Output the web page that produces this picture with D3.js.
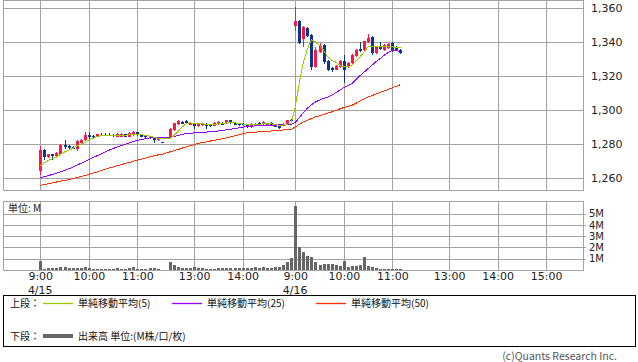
<!DOCTYPE html>
<html>
<head>
<meta charset="utf-8">
<script src="https://cdn.jsdelivr.net/npm/d3@7"></script>
<style>
  body { margin: 0; background: #fff; }
  text { font-family: "DejaVu Sans", sans-serif; }
  .jp { font-family: "Noto Sans CJK JP", sans-serif; }
</style>
</head>
<body>
<div id="chart"></div>
<script>
// bar times, 5 minute bars
var day1Times = ["9:00","9:05","9:10","9:15","9:20","9:25","9:30","9:35","9:40","9:45","9:50","9:55",
  "10:00","10:05","10:10","10:15","10:20","10:25","10:30","10:35","10:40","10:45","10:50","10:55",
  "11:00","11:05","11:10","11:15","11:20","11:25","11:30",
  "12:30","12:35","12:40","12:45","12:50","12:55","13:00","13:05","13:10","13:15","13:20","13:25",
  "13:30","13:35","13:40","13:45","13:50","13:55","14:00","14:05","14:10","14:15","14:20","14:25",
  "14:30","14:35","14:40","14:45","14:50","14:55","15:00"];
var day2Times = ["9:00","9:05","9:10","9:15","9:20","9:25","9:30","9:35","9:40","9:45","9:50","9:55",
  "10:00","10:05","10:10","10:15","10:20","10:25","10:30","10:35","10:40","10:45","10:50","10:55",
  "11:00","11:05","11:10"];

// prices (day1 then day2)
var openP = [1264.5,1276.5,1272.5,1274,1273,1274.5,1279.5,1279,1278.5,1277.5,1281,1282.5,1285.5,1285,1284.5,1285.5,1285.5,1285.5,1285.5,1284.5,1284.5,1286,1284.5,1285.5,1287,1285.5,1285,1284.5,1284,1282.5,1281.5,
  1284,1288.5,1292,1293,1293.5,1292,1292,1290.5,1291.5,1292,1291.5,1291,1292,1292.5,1292.5,1294,1292.5,1292,1292,1291.5,1290,1291.5,1292.5,1292,1291.5,1292.5,1291,1290.5,1291,1292,1294.5,
  1349.5,1352.5,1342,1348.5,1344.5,1325.5,1334.5,1338.5,1329,1325,1324,1325.5,1329,1325.5,1328,1332,1336,1335.5,1340,1343,1333.5,1337.5,1335.5,1336.5,1339.5,1337.5,1335.5];
var highP = [1279,1277,1274.5,1274.5,1275.5,1280,1282.5,1279.5,1279,1282.5,1283,1287,1287,1285.5,1286,1286.5,1286.5,1286.5,1286,1286.5,1286.5,1286,1287,1288,1287.5,1286,1285.5,1285,1284.5,1284,1281.5,
  1289.5,1292.5,1294,1293.5,1294,1292.5,1292.5,1292.5,1292.5,1292.5,1292,1293,1293.5,1293,1294.5,1294.5,1293,1292.5,1292.5,1292,1292.5,1292.5,1293,1293.5,1292.5,1293,1291.5,1291,1292.5,1294.5,1295,
  1361,1353,1349.5,1349,1345,1337.5,1339.5,1339,1329.5,1325.5,1326.5,1329.5,1332.5,1328.5,1333,1336,1340,1341,1345,1343.5,1337.5,1340,1339,1339.5,1340,1338,1336];
var lowP = [1262,1270.5,1272,1270.5,1272.5,1274,1277.5,1277.5,1277,1276,1280.5,1282,1282.5,1283,1284,1285,1285,1285,1284.5,1284,1284,1284,1284,1285,1285,1284,1283.5,1283,1280.5,1282,1281,
  1283.5,1288,1291.5,1292,1292,1291.5,1289,1290,1291,1289,1290,1290.5,1291.5,1291.5,1292,1292,1291.5,1291,1291,1289.5,1289.5,1291,1291.5,1291.5,1291,1291,1290,1289,1290.5,1291.5,1294,
  1346.5,1339,1337,1343,1324,1325,1333.5,1327.5,1323,1322.5,1323.5,1325,1316,1325,1327.5,1331.5,1334.5,1335,1339.5,1332.5,1333,1335.5,1335,1336,1334.5,1335,1333];
var closeP = [1276.5,1272.5,1274,1273,1275,1279.5,1278.5,1278,1277.5,1282,1282.5,1285.5,1284.5,1284.5,1286,1285,1285,1285,1285,1286,1286,1284.5,1286.5,1287,1285.5,1284.5,1284,1283.5,1282.5,1283.5,1281,
  1289,1292.5,1293.5,1292.5,1292.5,1292.5,1290.5,1292,1292.5,1291,1291,1292.5,1293,1292,1294,1292.5,1292,1291.5,1291.5,1290.5,1292,1292,1292,1293,1292.5,1291.5,1290.5,1290,1292,1294.5,1294,
  1352.5,1339.5,1349,1343.5,1325.5,1335.5,1338,1328.5,1324,1323.5,1326,1329,1324,1328,1332.5,1335.5,1335.5,1340.5,1342.5,1333.5,1337.5,1336,1338.5,1339,1335,1335.5,1334];

// volume, millions
var volM = [0.82,0.12,0.18,0.15,0.2,0.3,0.3,0.15,0.18,0.18,0.15,0.3,0.15,0.12,0.09,0.06,0.06,0.06,0.09,0.2,0.12,0.12,0.18,0.3,0.12,0.06,0.12,0.18,0.15,0.06,0.03,
  0.73,0.47,0.24,0.18,0.2,0.18,0.24,0.18,0.2,0.06,0.09,0.12,0.18,0.2,0.18,0.15,0.15,0.18,0.2,0.2,0.2,0.24,0.2,0.27,0.2,0.18,0.24,0.3,0.41,0.68,1.06,
  5.68,2.06,1.56,1.21,1.12,0.68,0.41,0.56,0.5,0.5,0.47,0.32,0.76,0.26,0.38,0.38,0.41,1.12,0.38,0.26,0.18,0.12,0.12,0.09,0.09,0.09,0.09];

// moving averages
var ma5 = [1267.3,1269,1270.5,1271.5,1272.5,1274,1275.5,1276.5,1277.5,1279,1280,1281,1282.5,1283.5,1284.5,1285,1285.2,1285.3,1285.3,1285.3,1285.4,1285.4,1285.5,1285.6,1285.8,1285.6,1285.3,1284.8,1284.2,1283.6,1283.2,
  1283.4,1285,1287.5,1290,1292,1292.6,1292.3,1292.2,1292,1291.8,1291.7,1291.8,1292,1292.2,1292.6,1292.7,1292.6,1292.3,1292,1291.6,1291.5,1291.4,1291.6,1292,1292.1,1292,1291.6,1291.3,1291.3,1291.8,1292.5,
  1302,1316,1328,1336,1341.4,1340.2,1338.2,1335.3,1331.4,1329.4,1328.4,1326.5,1325.5,1325.5,1326.5,1328.8,1331.4,1334.3,1337.3,1337.8,1337.8,1337.8,1337.8,1337.6,1337.3,1337,1336.7];
var ma25 = [1260.2,1261,1261.5,1262.3,1263,1263.8,1264.5,1265.5,1266.5,1267.6,1268.7,1269.8,1271,1272.1,1273.2,1274.3,1275.4,1276.5,1277.5,1278.4,1279.2,1280,1280.8,1281.6,1282.3,1282.8,1283.3,1283.7,1284,1284,1284,
  1284,1284.6,1285.2,1285.8,1286.2,1286.5,1286.7,1286.9,1287,1287.2,1287.4,1287.6,1287.8,1288.1,1288.5,1288.9,1289.2,1289.6,1290,1290.4,1290.6,1290.8,1290.9,1291,1291.1,1291.2,1291.3,1291.4,1291.5,1291.6,1291.8,
  1292.8,1295.7,1298.6,1301.2,1303.2,1304.9,1306,1306.9,1307.8,1308.8,1310.3,1311.8,1313.3,1314.5,1315.7,1318,1320.4,1322.4,1324.5,1326.6,1328.7,1330.5,1332.4,1334,1335.3,1335.2,1334.5];
var ma50 = [1255.9,1256.3,1256.8,1257.3,1257.8,1258.3,1258.7,1259.2,1259.8,1260.4,1261,1261.6,1262.2,1263,1263.7,1264.5,1265.2,1266,1266.7,1267.4,1268,1268.7,1269.3,1270,1270.6,1271.3,1271.9,1272.6,1273.2,1273.7,1274.1,
  1275.5,1276.2,1276.9,1277.7,1278.4,1279.1,1279.8,1280.5,1281,1281.4,1281.9,1282.3,1282.7,1283.3,1283.8,1284.4,1284.9,1285.5,1286.1,1286.7,1286.9,1287.1,1287.3,1287.5,1287.6,1287.8,1288,1288.2,1288.4,1288.6,1288.7,
  1290.2,1291.7,1293.1,1294.1,1295.1,1296.1,1296.8,1297.5,1298.3,1299,1299.9,1300.8,1301.6,1302.3,1302.9,1304.1,1305.4,1306.6,1307.8,1308.7,1309.6,1310.5,1311.4,1312.3,1313.3,1314.2,1315.1];

// axis ticks
var priceTicks = [1260, 1280, 1300, 1320, 1340, 1360];
var volTicks = [1, 2, 3, 4, 5];
var timeTicks = ["4/15 9:00","4/15 10:00","4/15 11:00","4/15 13:00","4/15 14:00",
  "4/16 9:00","4/16 10:00","4/16 11:00","4/16 13:00","4/16 14:00","4/16 15:00"];
var dayLabels = ["4/15", "4/16"];

// build the bar table
var times = day1Times.map(function (t) { return "4/15 " + t; })
  .concat(day2Times.map(function (t) { return "4/16 " + t; }));
var data = times.map(function (t, i) {
  return { t: t, o: openP[i], h: highP[i], l: lowP[i], c: closeP[i], v: volM[i],
    m5: ma5[i], m25: ma25[i], m50: ma50[i] };
});

// trading-session position of a time (lunch break and overnight collapsed)
function slotOf(t) {
  var parts = t.split(" "), hm = parts[1].split(":");
  var mins = +hm[0] * 60 + +hm[1];
  var s = mins <= 690 ? (mins - 540) / 5 : (mins - 750) / 5 + 32;
  return parts[0] === "4/16" ? s + 63 : s;
}

var W = 638, H = 362;
var plot = { left: 3, right: 583, top: 0, bottom: 190 };
var vplot = { top: 201, bottom: 270 };

var svg = d3.select("#chart").append("svg")
  .attr("width", W).attr("height", H);

var x = d3.scaleLinear().domain([-9.2, 134.1]).range([plot.left, plot.right]);
var y = d3.scaleLinear().domain([1253.1, 1364.9]).range([plot.bottom, plot.top]);
var yv = d3.scaleLinear().domain([0, 6.13]).range([vplot.bottom, vplot.top]);

var px = function (v) { return Math.round(v) + 0.5; };
var gridColor = "#a3a3a3";

// ---- grids
var grid = svg.append("g").attr("shape-rendering", "crispEdges");
[[plot.top, plot.bottom], [vplot.top, vplot.bottom]].forEach(function (p) {
  grid.selectAll(null).data(timeTicks).enter().append("line")
    .attr("x1", function (d) { return px(x(slotOf(d))); })
    .attr("x2", function (d) { return px(x(slotOf(d))); })
    .attr("y1", p[0]).attr("y2", p[1])
    .attr("stroke", gridColor);
});
grid.selectAll(null).data(priceTicks).enter().append("line")
  .attr("x1", plot.left).attr("x2", plot.right)
  .attr("y1", function (d) { return px(y(d)); })
  .attr("y2", function (d) { return px(y(d)); })
  .attr("stroke", gridColor);
grid.selectAll(null).data(volTicks).enter().append("line")
  .attr("x1", plot.left).attr("x2", plot.right + 3)
  .attr("y1", function (d) { return px(yv(d)); })
  .attr("y2", function (d) { return px(yv(d)); })
  .attr("stroke", gridColor);
grid.append("rect")
  .attr("x", plot.left + 0.5).attr("y", plot.top + 0.5)
  .attr("width", plot.right - plot.left).attr("height", plot.bottom - plot.top)
  .attr("fill", "none").attr("stroke", gridColor);
grid.append("rect")
  .attr("x", plot.left + 0.5).attr("y", vplot.top + 0.5)
  .attr("width", plot.right - plot.left).attr("height", vplot.bottom - vplot.top)
  .attr("fill", "none").attr("stroke", gridColor);

// ---- y axis labels (price)
svg.append("g")
  .attr("transform", "translate(" + (plot.right + 8) + ",0)")
  .call(d3.axisRight(y).tickValues(priceTicks).tickSize(0).tickPadding(0)
    .tickFormat(d3.format(",")))
  .call(function (g) { g.select(".domain").remove(); })
  .selectAll("text")
  .attr("font-size", 11).attr("fill", "#222")
  .attr("font-family", "DejaVu Sans");

// volume labels
svg.append("g")
  .attr("transform", "translate(" + (plot.right + 6) + ",0)")
  .call(d3.axisRight(yv).tickValues(volTicks).tickSize(0).tickPadding(0)
    .tickFormat(function (d) { return d + "M"; }))
  .call(function (g) { g.select(".domain").remove(); })
  .selectAll("text")
  .attr("font-size", 10).attr("fill", "#222")
  .attr("font-family", "DejaVu Sans Condensed, DejaVu Sans");

// x axis labels
svg.append("g")
  .attr("transform", "translate(0," + (vplot.bottom + 2) + ")")
  .call(d3.axisBottom(x).tickValues(timeTicks.map(slotOf)).tickSize(0).tickPadding(0)
    .tickFormat(function (d, i) { return timeTicks[i].split(" ")[1]; }))
  .call(function (g) { g.select(".domain").remove(); })
  .selectAll("text")
  .attr("font-size", 11).attr("fill", "#222")
  .attr("font-family", "DejaVu Sans");

svg.selectAll(".daylbl").data(dayLabels).enter().append("text")
  .attr("class", "daylbl")
  .attr("x", function (d) { return x(slotOf(d + " 9:00")); })
  .attr("y", 294)
  .attr("text-anchor", "middle")
  .attr("font-size", 11).attr("fill", "#222")
  .text(function (d) { return d; });

svg.append("text").attr("class", "jp")
  .attr("x", 8).attr("y", 212)
  .attr("font-size", 10).attr("fill", "#222")
  .text("単位: M");

// ---- volume bars
svg.append("g").attr("shape-rendering", "crispEdges")
  .selectAll("rect").data(data).enter().append("rect")
  .attr("x", function (d) { return Math.round(x(slotOf(d.t))) - 1; })
  .attr("y", function (d) { return yv(d.v); })
  .attr("width", 3)
  .attr("height", function (d) { return yv(0) - yv(d.v); })
  .attr("fill", "#666");

// ---- candles
var up = "#ff1744", down = "#0d3494";
var candles = svg.append("g").attr("shape-rendering", "crispEdges")
  .selectAll("g").data(data).enter().append("g");
candles.append("line")
  .attr("x1", function (d) { return px(x(slotOf(d.t))); })
  .attr("x2", function (d) { return px(x(slotOf(d.t))); })
  .attr("y1", function (d) { return y(d.h); })
  .attr("y2", function (d) { return y(d.l); })
  .attr("stroke", function (d) { return d.c >= d.o ? up : down; });
candles.append("rect")
  .attr("x", function (d) { return Math.round(x(slotOf(d.t))) - 1; })
  .attr("y", function (d) { return y(Math.max(d.o, d.c)); })
  .attr("width", 3)
  .attr("height", function (d) { return Math.max(1.5, Math.abs(y(d.o) - y(d.c))); })
  .attr("fill", function (d) { return d.c >= d.o ? up : down; });

// ---- moving averages
var maSeries = [
  { key: "m50", color: "#ff3300" },
  { key: "m25", color: "#9900ff" },
  { key: "m5", color: "#99cc00" }
];
maSeries.forEach(function (s) {
  var line = d3.line()
    .x(function (d) { return x(slotOf(d.t)); })
    .y(function (d) { return y(d[s.key]); });
  svg.append("path").datum(data)
    .attr("d", line)
    .attr("fill", "none")
    .attr("stroke", s.color)
    .attr("stroke-width", 1)
    .attr("shape-rendering", "crispEdges");
});

// ---- legend
var legend = svg.append("g");
legend.append("rect")
  .attr("x", 3.5).attr("y", 295.5).attr("width", 632).attr("height", 51)
  .attr("fill", "none").attr("stroke", "#000").attr("shape-rendering", "crispEdges");
legend.append("text").attr("class", "jp").attr("x", 10).attr("y", 307)
  .attr("font-size", 10).attr("fill", "#111").text("上段：");
var legItems = [
  { x: 43, color: "#99cc00", label: "単純移動平均(5)" },
  { x: 172, color: "#9900ff", label: "単純移動平均(25)" },
  { x: 316, color: "#ff3300", label: "単純移動平均(50)" }
];
legItems.forEach(function (d) {
  legend.append("line")
    .attr("x1", d.x).attr("x2", d.x + 30).attr("y1", 303.5).attr("y2", 303.5)
    .attr("stroke", d.color).attr("stroke-width", 1.3);
  legend.append("text").attr("class", "jp")
    .attr("x", d.x + 35).attr("y", 307)
    .attr("font-size", 10).attr("fill", "#111").text(d.label);
});
legend.append("text").attr("class", "jp").attr("x", 10).attr("y", 340)
  .attr("font-size", 10).attr("fill", "#111").text("下段：");
legend.append("line")
  .attr("x1", 43).attr("x2", 73).attr("y1", 336).attr("y2", 336)
  .attr("stroke", "#666").attr("stroke-width", 4);
legend.append("text").attr("class", "jp").attr("x", 78).attr("y", 340)
  .attr("font-size", 10).attr("fill", "#111").text("出来高 単位:(M株/口/枚)");

svg.append("text").attr("class", "jp")
  .attr("x", 617).attr("y", 360)
  .attr("text-anchor", "end")
  .attr("font-size", 10.5).attr("fill", "#555")
  .text("(c)Quants Research Inc.");
</script>
</body>
</html>
